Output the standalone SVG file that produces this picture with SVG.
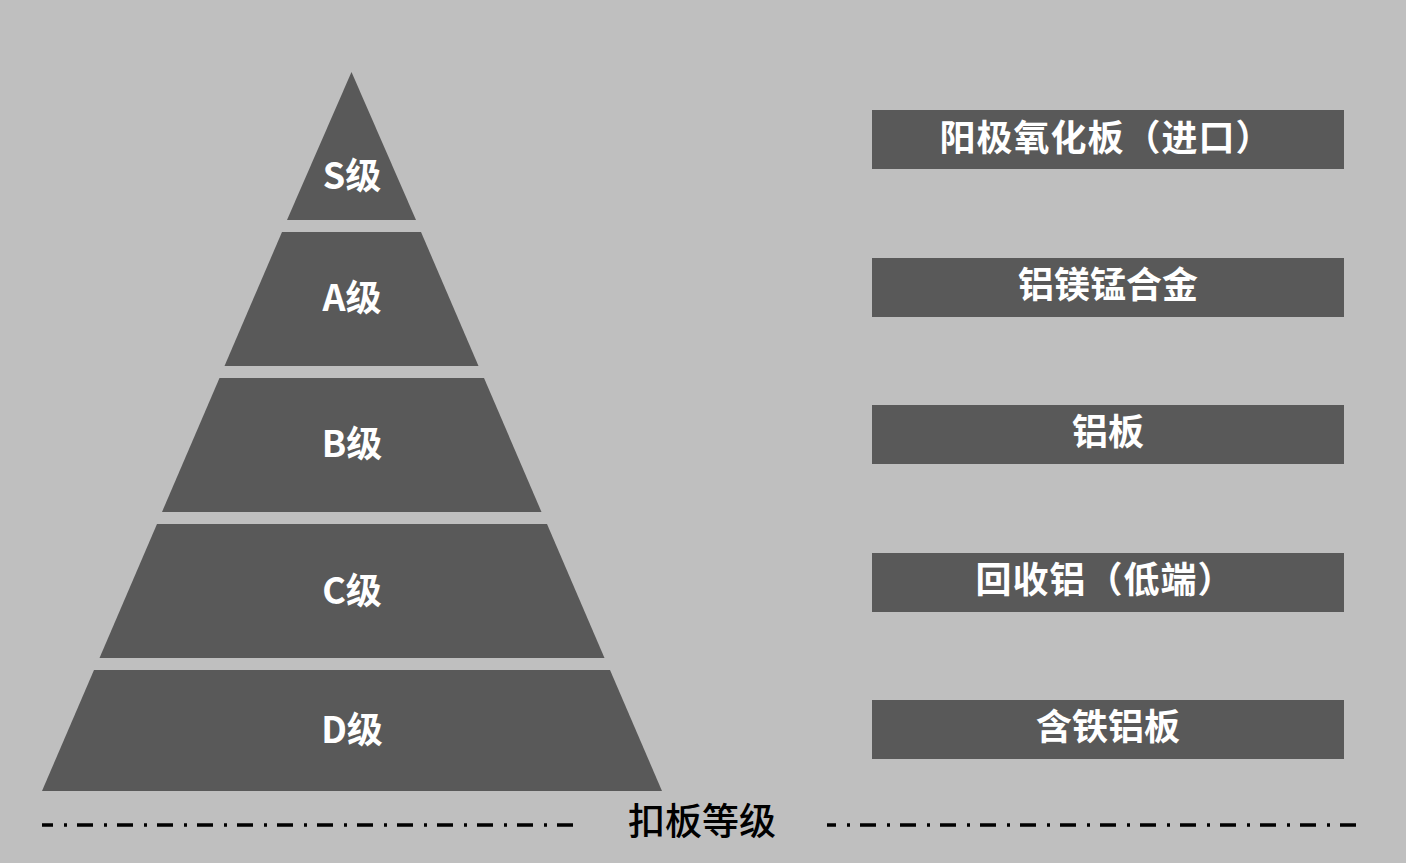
<svg xmlns="http://www.w3.org/2000/svg" width="1406" height="863" viewBox="0 0 1406 863">
  <style>
    .tier { fill: #595959; }
    .box { fill: #595959; }
    .lbl { font-family: "Noto Sans CJK SC", "Liberation Sans", sans-serif; font-weight: bold; font-size: 36px; fill: #ffffff; text-anchor: middle; dominant-baseline: central; }
    .title { font-family: "Noto Sans CJK SC", "Liberation Sans", sans-serif; font-weight: 500; font-size: 37px; fill: #000000; text-anchor: middle; dominant-baseline: central; }
    .dash { stroke: #000000; stroke-width: 3.5; fill: none; stroke-dasharray: 16 11 3 10; }
  </style>
  <rect x="0" y="0" width="1406" height="863" fill="#bfbfbf"/>

  <g id="tier-S">
    <polygon class="tier" points="351.5,72 416,220 287,220"/>
    <text class="lbl" x="352" y="173">S级</text>
  </g>
  <g id="tier-A">
    <polygon class="tier" points="282,232 421,232 478.5,366 224.5,366"/>
    <text class="lbl" x="352" y="295">A级</text>
  </g>
  <g id="tier-B">
    <polygon class="tier" points="219.5,378 484,378 541.5,512 162,512"/>
    <text class="lbl" x="352" y="441">B级</text>
  </g>
  <g id="tier-C">
    <polygon class="tier" points="157,524 547,524 604.5,658 99.5,658"/>
    <text class="lbl" x="352" y="588">C级</text>
  </g>
  <g id="tier-D">
    <polygon class="tier" points="94,670 610,670 662,791 42,791"/>
    <text class="lbl" x="352" y="727">D级</text>
  </g>

  <g id="box-1">
    <rect class="box" x="872" y="110" width="472" height="59"/>
    <text class="lbl" x="1106" y="135" letter-spacing="1">阳极氧化板（进口）</text>
  </g>
  <g id="box-2">
    <rect class="box" x="872" y="258" width="472" height="59"/>
    <text class="lbl" x="1108" y="282">铝镁锰合金</text>
  </g>
  <g id="box-3">
    <rect class="box" x="872" y="405" width="472" height="59"/>
    <text class="lbl" x="1108" y="429">铝板</text>
  </g>
  <g id="box-4">
    <rect class="box" x="872" y="553" width="472" height="59"/>
    <text class="lbl" x="1105" y="577" letter-spacing="1">回收铝（低端）</text>
  </g>
  <g id="box-5">
    <rect class="box" x="872" y="700" width="472" height="59"/>
    <text class="lbl" x="1108" y="724">含铁铝板</text>
  </g>

  <g id="axis">
    <line class="dash" x1="42" y1="825" x2="574" y2="825" stroke-dashoffset="5"/>
    <line class="dash" x1="827" y1="825" x2="1358" y2="825" stroke-dashoffset="7"/>
    <text class="title" x="702" y="819">扣板等级</text>
  </g>
</svg>
